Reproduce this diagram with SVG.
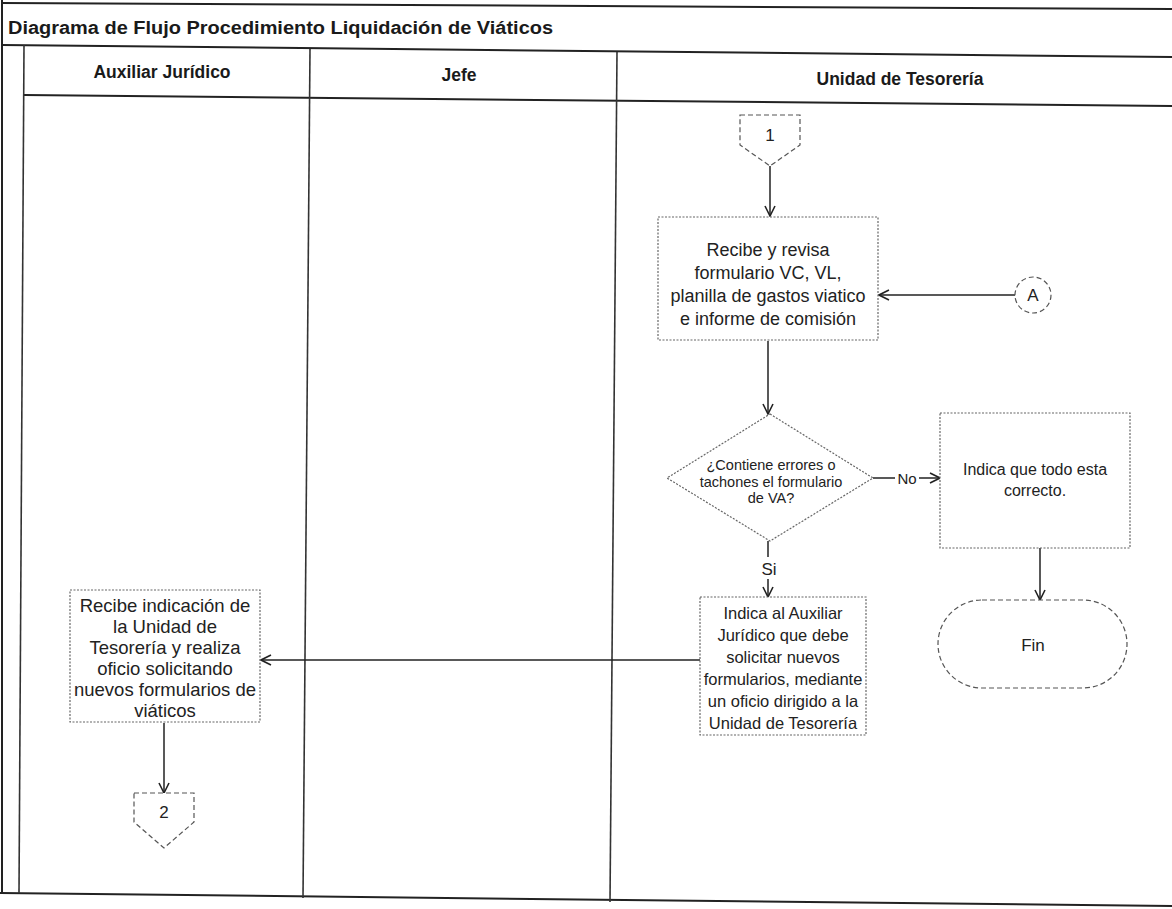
<svg xmlns="http://www.w3.org/2000/svg" width="1172" height="909" viewBox="0 0 1172 909">
<style>
.frame{stroke:#222;stroke-width:2;fill:none}
.lane{stroke:#333;stroke-width:1.6;fill:none}
.box{fill:#fff;stroke:#666;stroke-width:1.2;stroke-dasharray:2 1.5}
.conn{fill:#fff;stroke:#555;stroke-width:1.2;stroke-dasharray:5 3}
.edge{stroke:#222;stroke-width:1.5;fill:none}
.t{font-family:"Liberation Sans",Arial,sans-serif;fill:#222;text-anchor:middle}
.title{font-family:"Liberation Sans",Arial,sans-serif;font-weight:bold;font-size:18px;fill:#1a1a1a}
.hdr{font-family:"Liberation Sans",Arial,sans-serif;font-weight:bold;font-size:17.5px;fill:#1a1a1a;text-anchor:middle}
</style>
<defs>
<marker id="arr" viewBox="0 0 12 12" refX="11" refY="6" markerWidth="12" markerHeight="12" markerUnits="userSpaceOnUse" orient="auto">
<path d="M1,1 L11,6 L1,11" fill="none" stroke="#222" stroke-width="1.6"/>
</marker>
</defs>
<rect width="1172" height="909" fill="#fff"/>
<g id="frame">
<line class="frame" x1="2" y1="3" x2="1172" y2="9"/>
<line class="frame" x1="2" y1="0" x2="2" y2="893"/>
<line class="frame" x1="2" y1="45" x2="1172" y2="57"/>
<line class="frame" x1="24" y1="95" x2="1172" y2="106"/>
<line class="frame" x1="0" y1="893" x2="1172" y2="906"/>
<line class="lane" x1="24" y1="45" x2="19" y2="893"/>
<line class="lane" x1="310" y1="49" x2="303" y2="898"/>
<line class="lane" x1="617" y1="52" x2="610" y2="902"/>
<text class="title" x="8" y="34" textLength="545" lengthAdjust="spacingAndGlyphs">Diagrama de Flujo Procedimiento Liquidación de Viáticos</text>
<text class="hdr" x="162" y="78">Auxiliar Jurídico</text>
<text class="hdr" x="459" y="81">Jefe</text>
<text class="hdr" x="900" y="85">Unidad de Tesorería</text>
</g>
<g id="connectors">
<line class="edge" x1="770" y1="166" x2="770" y2="216" marker-end="url(#arr)"/>
<line class="edge" x1="1015" y1="295" x2="879" y2="295" marker-end="url(#arr)"/>
<line class="edge" x1="768" y1="341" x2="768" y2="414" marker-end="url(#arr)"/>
<line class="edge" x1="873" y1="478" x2="895" y2="478"/>
<text class="t" x="907" y="484" font-size="15">No</text>
<line class="edge" x1="919" y1="478" x2="940" y2="478" marker-end="url(#arr)"/>
<line class="edge" x1="1040" y1="548" x2="1040" y2="600" marker-end="url(#arr)"/>
<line class="edge" x1="768" y1="541" x2="768" y2="557"/>
<text class="t" x="769" y="575" font-size="17">Si</text>
<line class="edge" x1="768" y1="579" x2="768" y2="597" marker-end="url(#arr)"/>
<line class="edge" x1="700" y1="660" x2="261" y2="660" marker-end="url(#arr)"/>
<line class="edge" x1="164" y1="723" x2="164" y2="793" marker-end="url(#arr)"/>
</g>
<g id="c1">
<path class="conn" d="M740,115 L800,115 L800,145 L770,166 L740,145 Z"/>
<text class="t" x="770" y="141" font-size="17">1</text>
</g>
<g id="p1">
<rect class="box" x="658" y="217" width="220" height="123"/>
<text class="t" font-size="18"><tspan x="768" y="256">Recibe y revisa</tspan><tspan x="768" y="279">formulario VC, VL,</tspan><tspan x="768" y="302">planilla de gastos viatico</tspan><tspan x="768" y="325">e informe de comisión</tspan></text>
</g>
<g id="cA">
<circle class="conn" cx="1033" cy="295" r="18"/>
<text class="t" x="1033" y="301" font-size="17">A</text>
</g>
<g id="d1">
<path class="box" d="M770,414 L873,478 L770,541 L667,478 Z"/>
<text class="t" font-size="14.5"><tspan x="771" y="470">¿Contiene errores o</tspan><tspan x="771" y="487">tachones el formulario</tspan><tspan x="771" y="503">de VA?</tspan></text>
</g>
<g id="p2">
<rect class="box" x="940" y="413" width="190" height="135"/>
<text class="t" font-size="16"><tspan x="1035" y="475">Indica que todo esta</tspan><tspan x="1035" y="496">correcto.</tspan></text>
</g>
<g id="fin">
<rect class="conn" x="938" y="600" width="189" height="88" rx="44" ry="44"/>
<text class="t" x="1033" y="651" font-size="17">Fin</text>
</g>
<g id="p3">
<rect class="box" x="700" y="597" width="166" height="138"/>
<text class="t" font-size="16.5"><tspan x="783" y="619">Indica al Auxiliar</tspan><tspan x="783" y="641">Jurídico que debe</tspan><tspan x="783" y="663">solicitar nuevos</tspan><tspan x="783" y="685">formularios, mediante</tspan><tspan x="783" y="707">un oficio dirigido a la</tspan><tspan x="783" y="729">Unidad de Tesorería</tspan></text>
</g>
<g id="p4">
<rect class="box" x="70" y="590" width="190" height="132"/>
<text class="t" font-size="18.5"><tspan x="165" y="612">Recibe indicación de</tspan><tspan x="165" y="633">la Unidad de</tspan><tspan x="165" y="654">Tesorería y realiza</tspan><tspan x="165" y="675">oficio solicitando</tspan><tspan x="165" y="696">nuevos formularios de</tspan><tspan x="165" y="717">viáticos</tspan></text>
</g>
<g id="c2">
<path class="conn" d="M134,793 L194,793 L194,822 L164,848 L134,822 Z"/>
<text class="t" x="164" y="818" font-size="17">2</text>
</g>
</svg>
